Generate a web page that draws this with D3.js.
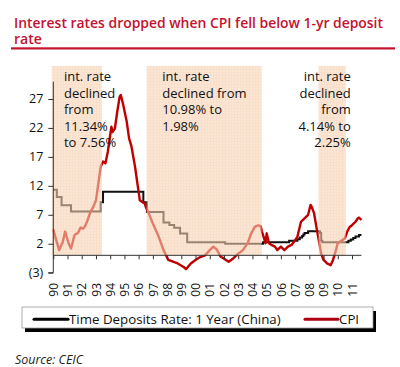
<!DOCTYPE html>
<html>
<head>
<meta charset="utf-8">
<script src="https://cdn.jsdelivr.net/npm/d3@7"></script>
<style>
  html, body { margin: 0; padding: 0; background: #fff; }
  svg { display: block; }
  text { font-family: "Open Sans", "Noto Sans", sans-serif; }
</style>
</head>
<body>
<svg id="chart" width="400" height="367"></svg>
<script>
// ---------- DATA ----------
const yTickValues = [-3, 2, 7, 12, 17, 22, 27];
const yTickLabels = ["(3)", "2", "7", "12", "17", "22", "27"];
const xTickYears = d3.range(1990, 2012);

// 1-year time deposit rate (step series)
const depositDates = ["1990-01","1990-04","1990-08","1991-04","1993-05","1993-07","1996-05","1996-08",
  "1997-10","1998-03","1998-07","1998-12","1999-06","2002-02","2004-10","2006-08","2007-03","2007-05",
  "2007-07","2007-08","2007-09","2007-12","2008-10","2008-11","2008-12","2010-10","2010-12","2011-02",
  "2011-04","2011-07","2011-09"];
const depositValues = [11.34,10.08,8.64,7.56,9.18,10.98,9.18,7.47,
  5.67,5.22,4.77,3.78,2.25,1.98,2.25,2.52,2.79,3.06,
  3.33,3.60,3.87,4.14,3.87,2.52,2.25,2.50,2.75,3.00,
  3.25,3.50,3.50];

// CPI YoY
const cpiDates = ["1990-01","1990-03","1990-06","1990-09","1990-11","1991-02","1991-04","1991-07","1991-10","1991-12",
  "1992-02","1992-04","1992-06","1992-08","1992-11","1993-01","1993-03","1993-05","1993-07","1993-09","1993-11",
  "1994-02","1994-03","1994-05","1994-07","1994-09","1994-10","1994-12","1995-03","1995-05","1995-07","1995-10",
  "1995-12","1996-02","1996-05","1996-06","1996-07","1996-09","1997-01","1997-06","1997-10","1998-02","1998-06",
  "1998-10","1999-03","1999-05","1999-09","2000-01","2000-05","2000-09","2001-01","2001-04","2001-07","2001-10",
  "2002-02","2002-05","2002-09","2003-01","2003-05","2003-09","2003-12","2004-03","2004-06","2004-08","2004-09",
  "2004-11","2004-12","2005-01","2005-03","2005-05","2005-08","2005-10","2006-01","2006-04","2006-07","2006-10",
  "2007-01","2007-03","2007-06","2007-09","2007-12","2008-02","2008-03","2008-05","2008-07","2008-09","2008-11",
  "2009-01","2009-04","2009-07","2009-09","2009-11","2010-01","2010-04","2010-07","2010-09","2010-11","2011-01",
  "2011-04","2011-06","2011-07","2011-09"];
const cpiValues = [4.5,3.0,0.9,2.3,4.1,2.0,1.2,3.5,3.9,4.8,
  4.6,5.1,6.1,7.3,8.5,9.5,12.3,15.3,16.2,15.9,17.9,
  22.2,21.3,21.9,24.8,27.4,27.7,26.0,23.1,20.2,18.8,15.3,
  12.4,9.5,9.1,9.0,8.4,7.5,5.5,3.2,0.9,-0.8,-1.1,
  -1.4,-2.0,-2.4,-1.4,-0.8,-0.3,0.0,0.9,1.5,1.0,-0.2,
  -0.7,-1.1,-0.5,0.3,0.9,2.1,3.8,4.9,5.2,5.0,4.1,
  2.8,2.1,3.8,2.1,1.8,1.5,0.9,1.5,0.9,1.5,1.8,
  2.6,3.2,5.8,6.4,7.0,8.7,8.4,7.3,4.9,2.6,0.3,
  -0.8,-1.4,-1.7,-0.8,0.6,2.1,2.5,2.9,4.1,4.9,5.2,
  5.8,6.4,6.5,6.1];

// Shaded "rate cut" periods
const shadeStarts = ["1990-01","1996-09","2008-10"];
const shadeEnds   = ["1993-06","2004-10","2010-09"];

const titleLines = ["Interest rates dropped when CPI fell below 1-yr deposit", "rate"];
const notes = [
  {lines: ["int. rate","declined","from","11.34%","to 7.56%"], at: "1990-10", anchor: "start"},
  {lines: ["int. rate","declined from","10.98% to","1.98%"], at: "1997-09", anchor: "start"},
  {lines: ["int. rate","declined","from","4.14% to","2.25%"], at: "2010-12", anchor: "end"}
];
const seriesNames = ["Time Deposits Rate: 1 Year (China)", "CPI"];
const sourceText = "Source: CEIC";

// ---------- DRAW ----------
const parse = d3.timeParse("%Y-%m");
const svg = d3.select("#chart");

const x = d3.scaleTime()
  .domain([new Date(1990,0,1), new Date(2011,0,1)])
  .range([53.3, 352]);
const y = d3.scaleLinear().domain([-3, 30]).range([272.7, 81.6]);

// title (one text element, two lines)
const red = "#c4122f";
const title = svg.append("text").attr("fill", red).attr("font-size", 14).attr("font-weight", 600);
title.selectAll("tspan").data(titleLines).join("tspan")
  .attr("x", 14).attr("y", (d,i) => 28 + i*15.5)
  .each(function(d,i){ if (i===0) d3.select(this).attr("textLength", 369).attr("lengthAdjust","spacingAndGlyphs"); })
  .text(d => d);
svg.append("rect").attr("x", 11).attr("y", 47.3).attr("width", 384).attr("height", 2.2).attr("fill", red);

// pattern for shaded areas
const defs = svg.append("defs");
const pat = defs.append("pattern").attr("id","grid").attr("patternUnits","userSpaceOnUse")
  .attr("width",3).attr("height",3);
pat.append("rect").attr("width",3).attr("height",3).attr("fill","#f8d3b6");
pat.append("path").attr("d","M0,0.5H3M0.5,0V3").attr("stroke","#f2c6a3").attr("stroke-width",0.6);

const dep = depositDates.map((d,i) => ({date: parse(d), v: depositValues[i]}));
const cpi = cpiDates.map((d,i) => ({date: parse(d), v: cpiValues[i]}));

// lines
svg.append("path").datum(dep)
  .attr("fill","none").attr("stroke","#111").attr("stroke-width",2)
  .attr("d", d3.line().x(d => x(d.date)).y(d => y(d.v)).curve(d3.curveStepAfter));
svg.append("path").datum(cpi)
  .attr("fill","none").attr("stroke","#c00000").attr("stroke-width",2.4).attr("stroke-linejoin","round")
  .attr("d", d3.line().x(d => x(d.date)).y(d => y(d.v)));

// shading on top (semi-transparent)
svg.selectAll("rect.shade").data(shadeStarts).join("rect")
  .attr("class","shade")
  .attr("x", d => x(parse(d)) - 1.5)
  .attr("width", (d,i) => x(parse(shadeEnds[i])) - x(parse(d)) + (i===0 ? 1.5 : 0))
  .attr("y", y(32.7)).attr("height", y(0) - y(32.7))
  .attr("fill","url(#grid)").attr("opacity",0.6);

// y axis
const yAxis = svg.append("g").attr("transform", `translate(${x(new Date(1990,0,1))},0)`)
  .call(d3.axisLeft(y).tickValues(yTickValues).tickSize(5).tickPadding(5)
    .tickFormat((d,i) => yTickLabels[i]));
yAxis.select(".domain").attr("stroke","#333").attr("d", `M0,${y(-3)}H-5M0,${y(-3)}V${y(30)}`);
yAxis.selectAll(".tick line").attr("stroke","#333");
yAxis.selectAll("text").attr("font-size", 12.5).attr("fill","#111");

// x axis at zero
const xAxis = svg.append("g").attr("transform", `translate(0,${y(0)})`)
  .call(d3.axisBottom(x).tickValues(xTickYears.map(yr => new Date(yr,0,1))).tickSize(4)
    .tickFormat(d3.timeFormat("%y")));
xAxis.select(".domain").attr("stroke","#333")
  .attr("d", `M${x(new Date(1990,0,1))},0H${x(parse("2011-09"))}`);
xAxis.selectAll(".tick line").attr("stroke","#333");
xAxis.selectAll("text")
  .attr("font-size", 12).attr("fill","#111")
  .attr("text-anchor","end").attr("dy","0.35em")
  .attr("transform", function(){ return `translate(0,${283 - y(0)}) rotate(-90)`; })
  .attr("x", 0).attr("y", 0);

// annotations
notes.forEach(n => {
  const g = svg.append("text").attr("font-size", 13).attr("fill","#111").attr("text-anchor", n.anchor);
  g.selectAll("tspan").data(n.lines).join("tspan")
    .attr("x", x(parse(n.at)))
    .attr("y", (d,i) => 81 + i*16.5)
    .text(d => d);
});

// legend
const lg = svg.append("g");
lg.append("rect").attr("x", 25).attr("y", 311).attr("width", 351).attr("height", 21).attr("fill","#000");
lg.append("rect").attr("x", 22).attr("y", 307).attr("width", 351).attr("height", 21)
  .attr("fill","#fff").attr("stroke","#999").attr("stroke-width",0.8);
lg.append("line").attr("x1",34).attr("x2",68).attr("y1",319.3).attr("y2",319.3)
  .attr("stroke","#000").attr("stroke-width",3).attr("stroke-linecap","round");
lg.append("text").attr("x",69).attr("y",323.8).attr("font-size",13.3).attr("fill","#111").text(seriesNames[0]);
lg.append("line").attr("x1",305).attr("x2",338).attr("y1",319.3).attr("y2",319.3)
  .attr("stroke","#b00010").attr("stroke-width",3).attr("stroke-linecap","round");
lg.append("text").attr("x",339).attr("y",323.8).attr("font-size",13.3).attr("fill","#111").text(seriesNames[1]);

// source
svg.append("text").attr("x",15).attr("y",364).attr("font-size",12).attr("font-style","italic")
  .attr("textLength",68).attr("lengthAdjust","spacingAndGlyphs")
  .attr("fill","#222").text(sourceText);
</script>
</body>
</html>
